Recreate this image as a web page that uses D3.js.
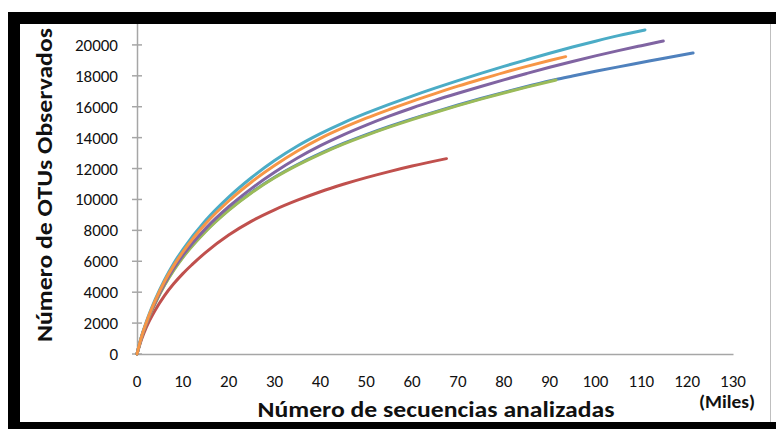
<!DOCTYPE html>
<html>
<head>
<meta charset="utf-8">
<script src="https://cdn.jsdelivr.net/npm/d3@7"></script>
<style>
  html, body { margin: 0; padding: 0; background: #fff; }
  svg { display: block; }
  text { font-family: Carlito, Calibri, Lato, "Open Sans", sans-serif; fill: #111; }
</style>
</head>
<body>
<svg id="chart" width="776" height="429"></svg>
<script>
// Rarefaction curves: sequences analysed (thousands) vs. observed OTUs
const seriesNames = ["Serie 1", "Serie 2", "Serie 3", "Serie 4", "Serie 5", "Serie 6"];
const seriesColors = ["#4F81BD", "#C0504D", "#9BBB59", "#8064A2", "#4BACC6", "#F79646"];

// [thousands of sequences, observed OTUs]
const serie1 = [[0,0],[1,1120],[2,1960],[4,3330],[6,4480],[8,5450],[10,6280],[15,7970],[20,9330],[25,10470],[30,11440],[35,12260],[40,12980],[45,13620],[50,14190],[55,14720],[60,15210],[65,15670],[70,16110],[75,16530],[80,16930],[85,17310],[91.4,17770],[95,17990],[100,18290],[105,18580],[110,18860],[115,19140],[121.3,19480]];
const serie2 = [[0,0],[1,950],[2,1700],[4,2850],[6,3780],[8,4540],[10,5200],[12,5780],[15,6580],[20,7700],[25,8600],[30,9330],[35,9950],[40,10500],[45,10980],[50,11410],[55,11800],[60,12160],[67.5,12640]];
const serie3 = [[0,0],[1,1080],[2,1920],[4,3290],[6,4440],[8,5410],[10,6240],[15,7930],[20,9290],[25,10430],[30,11400],[35,12220],[40,12940],[45,13580],[50,14150],[55,14680],[60,15170],[65,15630],[70,16070],[75,16490],[80,16890],[85,17270],[91.4,17730]];
const serie4 = [[0,0],[1,1100],[2,1960],[4,3360],[6,4540],[8,5530],[10,6390],[15,8130],[20,9530],[25,10720],[30,11760],[35,12680],[40,13480],[45,14180],[50,14810],[55,15390],[60,15920],[65,16410],[70,16870],[75,17310],[80,17740],[85,18150],[90,18550],[95,18930],[100,19290],[105,19630],[110,19950],[114.8,20250]];
const serie5 = [[0,0],[1,1150],[2,2050],[4,3550],[6,4800],[8,5860],[10,6760],[15,8650],[20,10150],[25,11420],[30,12520],[35,13460],[40,14260],[45,14960],[50,15580],[55,16150],[60,16690],[65,17200],[70,17690],[75,18160],[80,18610],[85,19040],[90,19460],[95,19860],[100,20240],[105,20600],[110.8,20970]];
const serie6 = [[0,0],[1,1130],[2,2010],[4,3470],[6,4690],[8,5720],[10,6600],[15,8440],[20,9900],[25,11130],[30,12190],[35,13130],[40,13950],[45,14640],[50,15260],[55,15820],[60,16350],[65,16850],[70,17330],[75,17780],[80,18210],[85,18610],[90,18990],[93.5,19240]];
const allSeries = [serie1, serie2, serie3, serie4, serie5, serie6];

const xTicks = [0,10,20,30,40,50,60,70,80,90,100,110,120,130];
const yTicks = [0,2000,4000,6000,8000,10000,12000,14000,16000,18000,20000];

const yTitle = "Número de OTUs Observados";
const xTitle = "Número de secuencias analizadas";
const xUnit = "(Miles)";

const svg = d3.select("#chart");

// Scales
const x = d3.scaleLinear().domain([0, 130]).range([137, 733]);
const y = d3.scaleLinear().domain([0, 22000]).range([354, 14]);

// Y axis with crossing tick marks
const yAxis = svg.append("g").attr("transform", `translate(${x(0)},0)`)
  .call(d3.axisLeft(y).tickValues(yTicks).tickSize(0).tickFormat(""));
yAxis.select(".domain").attr("stroke", "#a6a6a6").attr("stroke-width", 1.5);
yAxis.selectAll(".tick line").remove();

svg.append("g").selectAll("line").data(yTicks).join("line")
  .attr("x1", x(0) - 5).attr("x2", x(0) + 5)
  .attr("y1", d => y(d)).attr("y2", d => y(d))
  .attr("stroke", "#a6a6a6").attr("stroke-width", 1.5);

svg.append("g").selectAll("text").data(yTicks).join("text")
  .attr("x", 118).attr("y", d => y(d) + 6)
  .attr("text-anchor", "end")
  .attr("font-size", 17)
  .text(d => d);

// X axis
const xAxis = svg.append("g").attr("transform", `translate(0,${y(0)})`)
  .call(d3.axisBottom(x).tickValues(xTicks).tickSize(0).tickFormat(""));
xAxis.select(".domain").attr("stroke", "#a6a6a6").attr("stroke-width", 1.5);

svg.append("g").selectAll("text").data(xTicks).join("text")
  .attr("x", d => x(d)).attr("y", 387)
  .attr("text-anchor", "middle")
  .attr("font-size", 17)
  .text(d => d);

// Curves
const line = d3.line()
  .x(d => x(d[0]))
  .y(d => y(d[1]))
  .curve(d3.curveMonotoneX);

svg.append("g").selectAll("path").data(allSeries).join("path")
  .attr("d", line)
  .attr("fill", "none")
  .attr("stroke", (d, i) => seriesColors[i])
  .attr("stroke-width", 3)
  .attr("stroke-linecap", "round")
  .attr("stroke-linejoin", "round");

// Titles
svg.append("text")
  .attr("transform", "translate(52,185) rotate(-90)")
  .attr("text-anchor", "middle")
  .attr("font-size", 22)
  .attr("font-weight", "bold")
  .attr("textLength", 314)
  .attr("lengthAdjust", "spacingAndGlyphs")
  .text(yTitle);

svg.append("text")
  .attr("x", 436).attr("y", 417)
  .attr("text-anchor", "middle")
  .attr("font-size", 22)
  .attr("font-weight", "bold")
  .attr("textLength", 357)
  .attr("lengthAdjust", "spacingAndGlyphs")
  .text(xTitle);

svg.append("text")
  .attr("x", 727).attr("y", 408)
  .attr("text-anchor", "middle")
  .attr("font-size", 17)
  .attr("font-weight", "bold")
  .attr("textLength", 56)
  .attr("lengthAdjust", "spacingAndGlyphs")
  .text(xUnit);

// Frame
const frame = svg.append("g");
frame.append("line").attr("x1", 770.5).attr("x2", 770.5).attr("y1", 24).attr("y2", 422)
  .attr("stroke", "#bfbfbf").attr("stroke-width", 1);
frame.append("rect").attr("x", 8).attr("y", 12).attr("width", 768).attr("height", 12).attr("fill", "#000");
frame.append("rect").attr("x", 8).attr("y", 12).attr("width", 12).attr("height", 417).attr("fill", "#000");
frame.append("rect").attr("x", 8).attr("y", 422).attr("width", 768).attr("height", 7).attr("fill", "#000");
</script>
</body>
</html>
